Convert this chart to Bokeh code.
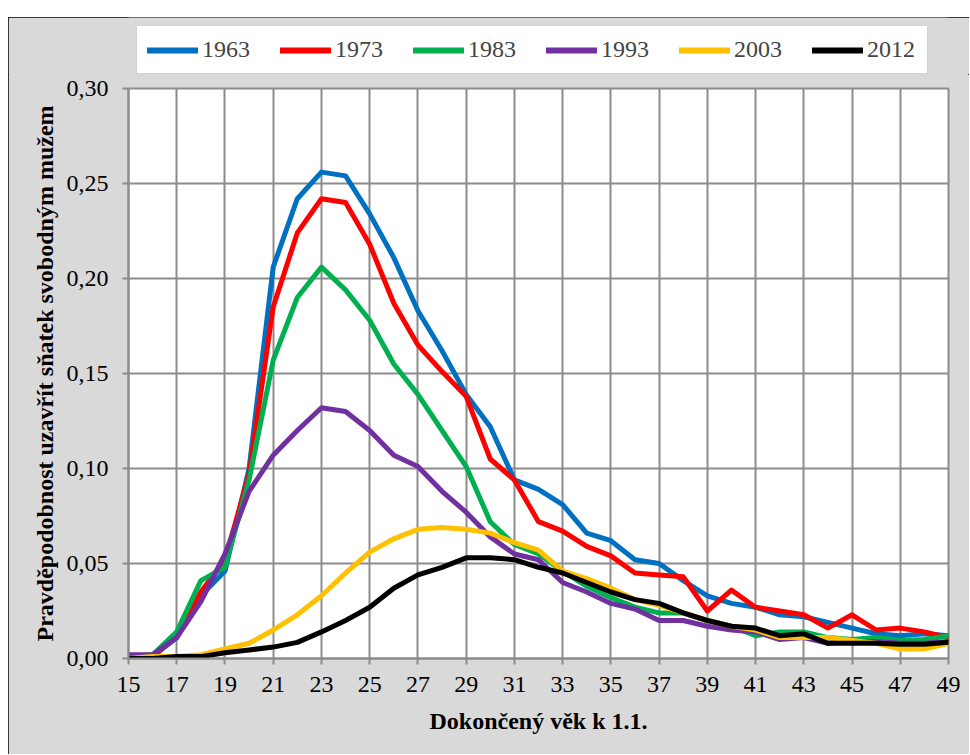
from bokeh.plotting import figure
from bokeh.layouts import column
from bokeh.models import Range1d, FixedTicker, CustomJSTickFormatter, Legend
from bokeh.embed import file_html
from bokeh.resources import INLINE

ages = list(range(15, 50))
x_ticks = list(range(15, 50, 2))
y_ticks = [0.0, 0.05, 0.10, 0.15, 0.20, 0.25, 0.30]

names = ["1963", "1973", "1983", "1993", "2003", "2012"]

s1963 = [0.001, 0.001, 0.011, 0.033, 0.046, 0.100, 0.206, 0.242, 0.256, 0.254,
         0.234, 0.211, 0.183, 0.162, 0.139, 0.122, 0.094, 0.089, 0.081, 0.066,
         0.062, 0.052, 0.050, 0.041, 0.033, 0.029, 0.027, 0.023, 0.022, 0.019,
         0.016, 0.013, 0.012, 0.013, 0.012]
s1973 = [0.001, 0.001, 0.012, 0.035, 0.052, 0.097, 0.185, 0.224, 0.242, 0.240,
         0.218, 0.187, 0.165, 0.151, 0.138, 0.105, 0.094, 0.072, 0.067, 0.059,
         0.054, 0.045, 0.044, 0.043, 0.025, 0.036, 0.027, 0.025, 0.023, 0.016,
         0.023, 0.015, 0.016, 0.014, 0.011]
s1983 = [0.001, 0.002, 0.014, 0.041, 0.048, 0.094, 0.157, 0.190, 0.206, 0.194,
         0.178, 0.155, 0.139, 0.120, 0.101, 0.072, 0.060, 0.055, 0.046, 0.038,
         0.032, 0.027, 0.024, 0.024, 0.020, 0.017, 0.012, 0.014, 0.014, 0.011,
         0.010, 0.011, 0.0095, 0.010, 0.012]
s1993 = [0.002, 0.002, 0.011, 0.030, 0.055, 0.088, 0.107, 0.120, 0.132, 0.130,
         0.120, 0.107, 0.101, 0.088, 0.077, 0.064, 0.055, 0.052, 0.040, 0.035,
         0.029, 0.026, 0.020, 0.020, 0.017, 0.015, 0.014, 0.010, 0.011, 0.008,
         0.009, 0.009, 0.008, 0.008, 0.009]
s2003 = [0.000, 0.001, 0.001, 0.002, 0.005, 0.008, 0.015, 0.023, 0.033, 0.045,
         0.056, 0.063, 0.068, 0.069, 0.068, 0.066, 0.061, 0.057, 0.046, 0.042,
         0.037, 0.031, 0.028, 0.024, 0.020, 0.017, 0.015, 0.011, 0.011, 0.011,
         0.0095, 0.008, 0.005, 0.005, 0.008]
s2012 = [0.000, 0.000, 0.001, 0.001, 0.003, 0.0045, 0.006, 0.0085, 0.014, 0.020,
         0.027, 0.037, 0.044, 0.048, 0.053, 0.053, 0.052, 0.048, 0.045, 0.040,
         0.035, 0.031, 0.029, 0.024, 0.020, 0.017, 0.016, 0.012, 0.013, 0.008,
         0.008, 0.008, 0.0075, 0.0075, 0.0085]

series = [s1963, s1973, s1983, s1993, s2003, s2012]
colors = ["#0070C0", "#FF0000", "#00B050", "#7030A0", "#FFC000", "#000000"]

FONT = "Liberation Serif"
GRID = "#8c8c8c"
BG = "#d9d9d9"
LW = 5

# ---- legend strip (separate figure so the legend is not clipped) ----
leg_fig = figure(width=961, height=57, output_backend="svg", toolbar_location=None,
                 x_range=Range1d(0, 1), y_range=Range1d(10, 11),
                 min_border_left=120, min_border_top=0, min_border_right=21,
                 min_border_bottom=0, background_fill_color=BG,
                 border_fill_color=BG)
leg_fig.axis.visible = False
leg_fig.grid.visible = False
leg_fig.outline_line_color = None

items = []
for name, ys, c in zip(names, series, colors):
    r = leg_fig.line(ages, ys, line_color=c, line_width=6, line_cap="round")
    items.append((name, [r]))

legend = Legend(items=items, orientation="horizontal", location="top_left",
                label_text_font=FONT, label_text_font_size="24px",
                glyph_width=51, glyph_height=20, label_standoff=4, spacing=28,
                label_width=50, padding=10, margin=8, border_line_color="#a6a6a6",
                border_line_width=1.5, background_fill_color="white",
                background_fill_alpha=1.0)
leg_fig.add_layout(legend, "center")

# ---- main chart ----
p = figure(width=961, height=680, output_backend="svg", toolbar_location=None,
           x_range=Range1d(15, 49), y_range=Range1d(0, 0.30),
           min_border_left=120, min_border_right=21, min_border_top=14,
           min_border_bottom=96, background_fill_color="white",
           border_fill_color=BG)
p.outline_line_color = GRID
p.outline_line_width = 2

for name, ys, c in zip(names, series, colors):
    p.line(ages, ys, line_color=c, line_width=LW, line_join="round", line_cap="round")

p.xaxis.ticker = FixedTicker(ticks=x_ticks)
p.yaxis.ticker = FixedTicker(ticks=y_ticks)
p.yaxis.formatter = CustomJSTickFormatter(code="return tick.toFixed(2).replace('.', ',');")

for ax in (p.xaxis[0], p.yaxis[0]):
    ax.axis_line_color = GRID
    ax.axis_line_width = 2
    ax.major_tick_line_color = GRID
    ax.major_tick_line_width = 2
    ax.major_tick_out = 6
    ax.major_tick_in = 0
    ax.minor_tick_line_color = None
    ax.major_label_text_font = FONT
    ax.major_label_text_font_size = "24px"
    ax.major_label_text_color = "black"
    ax.axis_label_text_font = FONT
    ax.axis_label_text_font_size = "24px"
    ax.axis_label_text_font_style = "bold"
    ax.axis_label_text_color = "black"

p.xaxis.axis_label = "Dokončený věk k 1.1."
p.yaxis.axis_label = "Pravděpodobnost uzavřít sňatek svobodným mužem"
p.xaxis.major_label_standoff = 12
p.xaxis.axis_label_standoff = 13
p.yaxis.major_label_standoff = 14
p.yaxis.axis_label_standoff = 6

p.xgrid.grid_line_color = GRID
p.xgrid.grid_line_width = 2
p.ygrid.grid_line_color = GRID
p.ygrid.grid_line_width = 2

layout = column(leg_fig, p, spacing=0, margin=(17, 0, 0, 8),
                styles={"outline": "1.5px solid #000", "outline-offset": "-1.5px",
                        "background": BG})

open("out.html", "w").write(file_html(layout, INLINE))
